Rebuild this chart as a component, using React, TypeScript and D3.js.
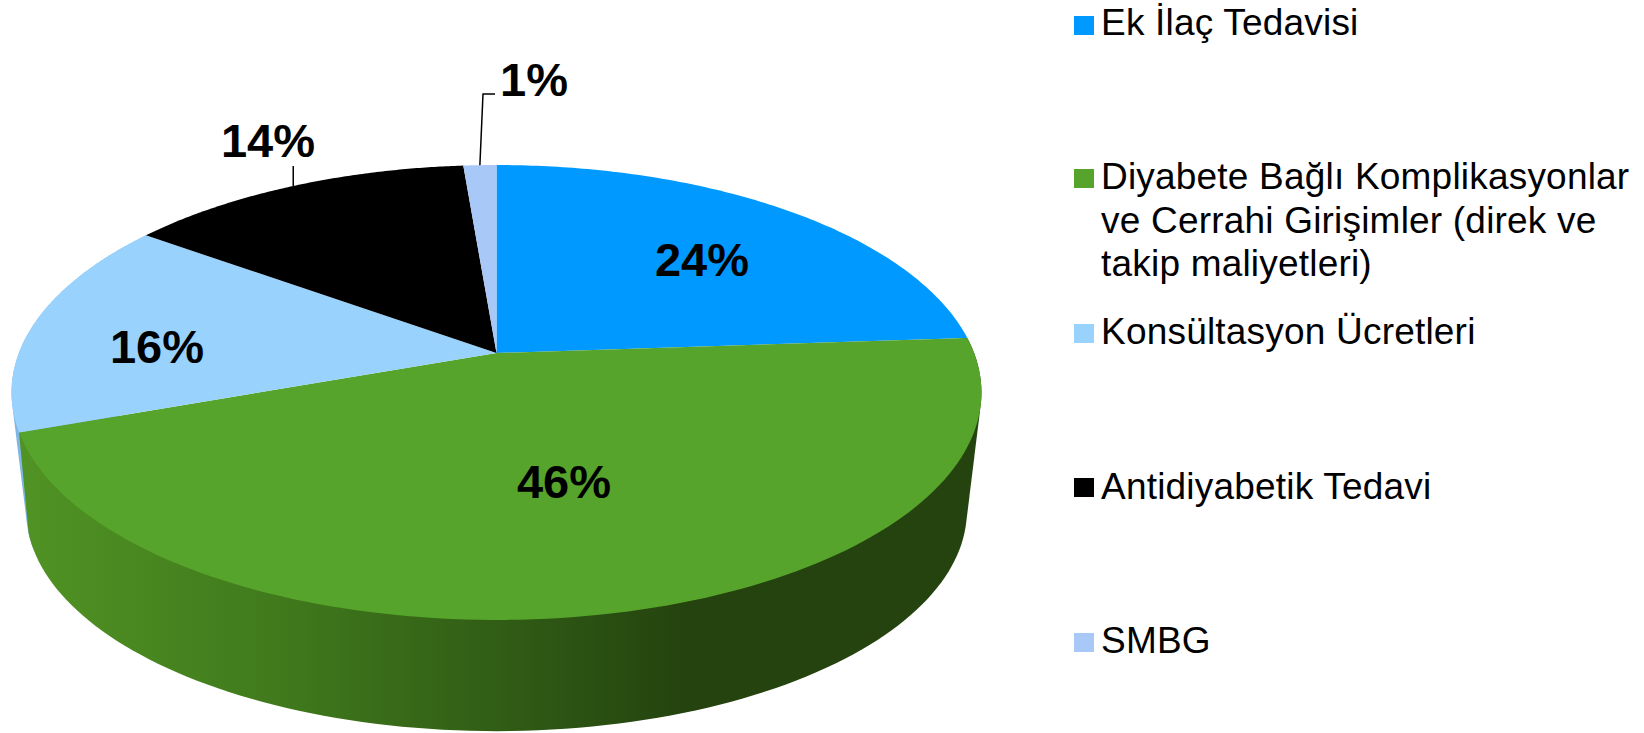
import * as d3 from "d3";

const categories = ["Ek İlaç Tedavisi", "Diyabete Bağlı Komplikasyonlar", "Konsültasyon Ücretleri", "Antidiyabetik Tedavi", "SMBG"];
const values = [23.9, 45.6, 15.5, 13.7, 1.3];
const colors = ["#0099ff", "#56a42b", "#99d3fd", "#000000", "#a8c8f8"];
const extraLines = [[], ["ve Cerrahi Girişimler (direk ve", "takip maliyetleri)"], [], [], []];
const legendBaselines = [35, 189, 344, 499, 653];
const swatchTops = [16, 169, 324, 478, 633];
const labelPos = [[702, 276], [564, 498], [157, 363], [268, 157], [534, 96]];

const WIDTH = 1644;
const HEIGHT = 733;
const font = "'Liberation Sans', Arial, sans-serif";

// tilted disc: plain circle pushed through a perspective so the centre sits above the middle of the ellipse
const apex = { x: 496.5, y: 353 };
const discR = 477.6;
const discRy = 220.6;
const persp = 0.1736;
const ellipseCy = 393;
const wallScale = 0.97;
const wallDrop = 118;
const wallTwist = (4 * Math.PI) / 180; // side edge of the green wall leans outwards a little

function topPoint(a: number): [number, number] {
  const u = Math.sin(a);
  const v = -Math.cos(a);
  const w = 1 - persp * v;
  return [apex.x + (discR * u) / w, apex.y + (discRy * v) / w];
}

function bottomPoint(a: number): [number, number] {
  const p = topPoint(a);
  return [apex.x + (p[0] - apex.x) * wallScale, ellipseCy + (p[1] - ellipseCy) * wallScale + wallDrop];
}

function sample(a0: number, a1: number, f: (a: number) => [number, number]) {
  return d3.range(0, 121).map((i) => f(a0 + ((a1 - a0) * i) / 120));
}

const pie = d3.pie<number>().sort(null).value((d) => d);
const arcs = pie(values);
const line = d3.line();

function wallPath(i: number, twist = 0) {
  const a = arcs[i];
  const pts = [...sample(a.startAngle, a.endAngle, topPoint), ...sample(a.startAngle, a.endAngle + twist, bottomPoint)];
  return line(d3.polygonHull(pts) as [number, number][]) + "Z";
}

function midAngle(i: number) {
  return (arcs[i].startAngle + arcs[i].endAngle) / 2;
}

function App() {
  const leaderSmbg = topPoint(midAngle(4));
  const leaderAnti = topPoint(midAngle(3));
  return (
    <svg width={WIDTH} height={HEIGHT} style={{ position: "absolute", left: 0, top: 0 }} fontFamily={font}>
      <defs>
        <linearGradient id="wallGreen" gradientUnits="userSpaceOnUse" x1="30" x2="690" y1="0" y2="0">
          <stop offset="0" stopColor="#509224" />
          <stop offset="0.4" stopColor="#3f781c" />
          <stop offset="1" stopColor="#24430f" />
        </linearGradient>
      </defs>
      <path d={wallPath(2)} fill="#7fb6e3" />
      <path d={wallPath(1, wallTwist)} fill="url(#wallGreen)" />
      {arcs.map((a, i) => (
        <path
          key={i}
          d={line([[apex.x, apex.y], ...sample(a.startAngle, a.endAngle, topPoint)]) + "Z"}
          fill={colors[i]}
        />
      ))}
      <path d={line([leaderSmbg, [483, 94], [495, 94]]) as string} fill="none" stroke="#000" strokeWidth={1.5} />
      <path d={line([leaderAnti, [leaderAnti[0], 166]]) as string} fill="none" stroke="#000" strokeWidth={1.5} />
      {arcs.map((a, i) => (
        <text key={i} x={labelPos[i][0]} y={labelPos[i][1]} textAnchor="middle" fontSize={47} fontWeight="bold" fill="#000">
          {d3.format(".0f")(a.value) + "%"}
        </text>
      ))}
      {categories.map((c, i) => (
        <g key={c} fontSize={37} letterSpacing={0.2} fill="#000">
          <rect x={1074} y={swatchTops[i]} width={20} height={19} fill={colors[i]} />
          <text x={1101} y={legendBaselines[i]}>{c}</text>
          {extraLines[i].map((t, j) => (
            <text key={t} x={1101} y={legendBaselines[i] + 43.5 * (j + 1)}>{t}</text>
          ))}
        </g>
      ))}
    </svg>
  );
}

export default App;
